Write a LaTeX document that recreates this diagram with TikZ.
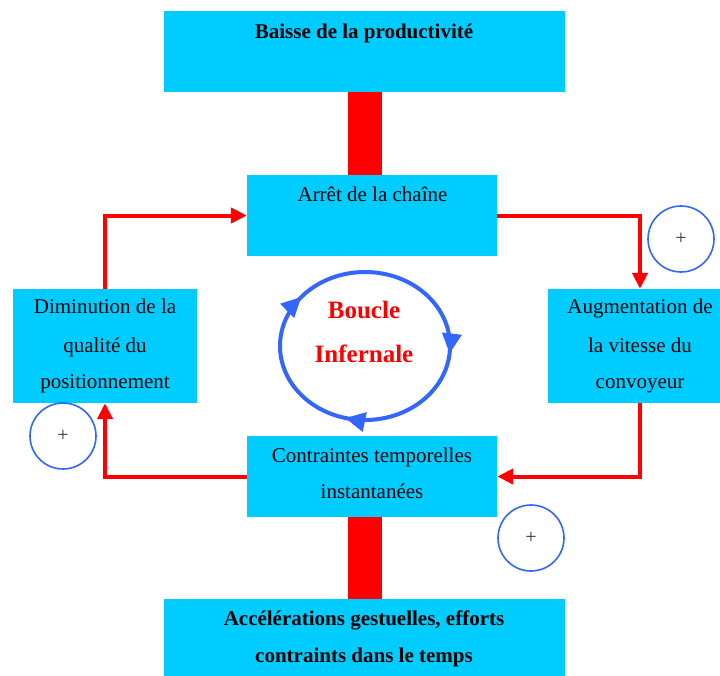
\documentclass[tikz,border=0pt]{standalone}
\usepackage{fontspec}
\setmainfont{Liberation Serif}
\usetikzlibrary{arrows.meta,decorations.markings}
\definecolor{boxcyan}{HTML}{00CCFF}
\definecolor{loopblue}{HTML}{3366FF}
\definecolor{arrred}{HTML}{FF0000}
\begin{document}
\begin{tikzpicture}[x=1pt,y=-1pt,
  box/.style={fill=boxcyan, draw=none, inner sep=0pt},
  txt/.style={anchor=base, inner sep=0pt, font=\fontsize{21}{25}\selectfont},
  btxt/.style={txt, font=\fontsize{21}{25}\selectfont\bfseries},
  bar/.style={draw=arrred, line width=34pt},
  flow/.style={draw=arrred, line width=4pt, -{Triangle[length=16pt,width=15pt]}},
  plus/.style={circle, draw=loopblue, line width=1.6pt, minimum size=66pt, inner sep=0pt, text=black!80, font=\fontsize{20}{22}\selectfont},
  looptxt/.style={anchor=base, inner sep=0pt, text=arrred, font=\fontsize{25}{30}\selectfont\bfseries},
  looptip/.style={}
]
\useasboundingbox (0,0) rectangle (720,675);
% boxes
\node[box, minimum width=401pt, minimum height=81pt] (top) at (364.5,51.5) {};
\node[box, minimum width=250pt, minimum height=81pt] (arret) at (372,215.5) {};
\node[box, minimum width=184pt, minimum height=114pt] (dimin) at (105,346) {};
\node[box, minimum width=184pt, minimum height=114pt] (augm) at (640,346) {};
\node[box, minimum width=250pt, minimum height=81pt] (contr) at (372,476.5) {};
\node[box, minimum width=401pt, minimum height=81pt] (bottom) at (364.5,639.5) {};
% red bars
\draw[bar] (top.south) -- (top.south |- arret.north);
\draw[bar] (bottom.north) -- (bottom.north |- contr.south);
% loop arrows
\draw[flow] (arret.east) -| (augm.north);
\draw[flow] (augm.south) |- (contr.east);
\draw[flow] (contr.west) -| (dimin.south);
\draw[flow] (dimin.north) |- (arret.west);
% texts
\node[btxt] (ttop) at (364,38) {Baisse de la productivité};
\node[txt] (tarret) at (372.5,201) {Arrêt de la chaîne};
\node[txt] (td1) at (105,313.5) {Diminution de la};
\node[txt] (td2) at (105,352) {qualité du};
\node[txt] (td3) at (105,388) {positionnement};
\node[txt] (ta1) at (640,313.5) {Augmentation de};
\node[txt] (ta2) at (640,352) {la vitesse du};
\node[txt] (ta3) at (640,388) {convoyeur};
\node[txt] (tc1) at (372,462) {Contraintes temporelles};
\node[txt] (tc2) at (372,498) {instantanées};
\node[btxt] (tb1) at (364,625) {Accélérations gestuelles, efforts};
\node[btxt] (tb2) at (364,662) {contraints dans le temps};
% central loop
\coordinate (lc) at (365,346);
\draw[draw=loopblue, line width=4pt, postaction={decorate},
  decoration={markings,
    mark=at position 0.265 with {\arrow{Triangle[length=20pt,width=19pt]}},
    mark=at position 0.54 with {\arrow{Triangle[length=20pt,width=19pt]}},
    mark=at position 0.86 with {\arrow{Triangle[length=20pt,width=19pt]}}}]
  (lc) ++(0,-74) arc[start angle=-90, end angle=270, x radius=85, y radius=74];
\node[looptxt] (boucle) at (364,318) {Boucle};
\node[looptxt] (infern) at (364,362) {Infernale};
% plus circles
\node[plus] (p1) at (681,239) {+};
\node[plus] (p2) at (63,436) {+};
\node[plus] (p3) at (531,538) {+};
\end{tikzpicture}
\end{document}
